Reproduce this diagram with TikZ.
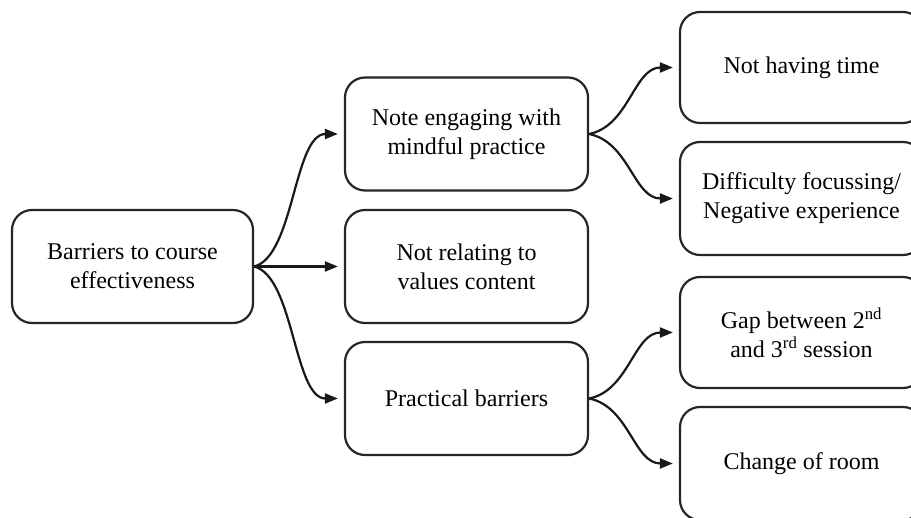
\documentclass[tikz,border=0pt]{standalone}
\usepackage{fontspec}
\setmainfont{Liberation Serif}
\usetikzlibrary{arrows.meta}
\begin{document}
\begin{tikzpicture}[x=1pt,y=-1pt,
  box/.style={draw=black!85, line width=2.2pt, rounded corners=20pt,
    minimum width=243pt, minimum height=113pt, align=center,
    font=\fontsize{24}{29}\selectfont, inner sep=0pt},
  link/.style={draw=black!90, line width=2.2pt,
    -{Triangle[length=13pt,width=10pt]}, shorten >=6pt}]
  \useasboundingbox (0,0) rectangle (911,518);
  \clip (0,0) rectangle (911,518);

  % first level
  \node[box, minimum width=241pt] (root) at (132.5,266.5) {Barriers to course\\effectiveness};

  % second level
  \node[box] (note) at (466.5,134) {Note engaging with\\mindful practice};
  \node[box] (values) at (466.5,266.5) {Not relating to\\values content};
  \node[box] (practical) at (466.5,398.5) {Practical barriers};

  % third level
  \node[box, minimum height=111pt] (time) at (801.5,67.5) {Not having time};
  \node[box] (focus) at (801.5,198.5) {Difficulty focussing/\\Negative experience};
  \node[box, minimum height=111pt] (gap) at (801.5,332.5) {Gap between 2\textsuperscript{nd}\\and 3\textsuperscript{rd} session};
  \node[box] (room) at (801.5,463.5) {Change of room};

  % connectors from the root
  \draw[link] (root.east) .. controls +(40,-10) and +(-50,0) .. (note.west);
  \draw[link] (root.east) -- (values.west);
  \draw[link] (root.east) .. controls +(40,10) and +(-50,0) .. (practical.west);

  % connectors from the second level
  \draw[link] (note.east) .. controls +(40,-8) and +(-45,0) .. (time.west);
  \draw[link] (note.east) .. controls +(40,8) and +(-45,0) .. (focus.west);
  \draw[link] (practical.east) .. controls +(40,-8) and +(-45,0) .. (gap.west);
  \draw[link] (practical.east) .. controls +(40,8) and +(-45,0) .. (room.west);
\end{tikzpicture}
\end{document}
